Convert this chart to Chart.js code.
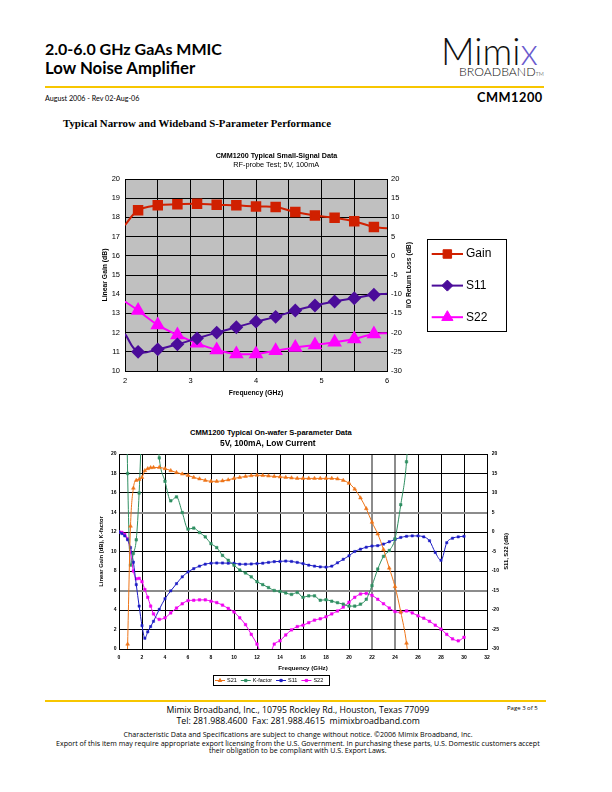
<!DOCTYPE html>
<html>
<head>
<meta charset="utf-8">
<title>CMM1200 S-Parameter Performance</title>
<script src="https://cdn.jsdelivr.net/npm/chart.js@4.4.0/dist/chart.umd.min.js"></script>
<style>
  body { margin: 0; background: #fff; }
  #page { position: relative; width: 612px; height: 792px; overflow: hidden; color: #000;
    font-family: "Liberation Sans", Arial, sans-serif; }
  .t { position: absolute; white-space: nowrap; line-height: 1; }
  .rule { position: absolute; height: 2px; background: #f7c600; }
  canvas { position: absolute; }
</style>
</head>
<body>
<div id="page">
  <canvas id="narrowChart" width="440" height="260" style="left:80px; top:145px;"></canvas>
  <canvas id="wideChart" width="450" height="250" style="left:80px; top:445px;"></canvas>

  <!-- header -->
  <div class="t" style="left:45px; font: bold 16px Lato;" data-w="177" data-cy="48.5">2.0-6.0 GHz GaAs MMIC</div>
  <div class="t" style="left:45px; font: bold 16px Lato;" data-w="150" data-cy="67">Low Noise Amplifier</div>
  <div class="t" style="font: 300 32px Lato; color:#111;" data-w="97" data-r="538" data-cy="50.5">Mimi<span style="color:#6a5acd;">x</span></div>
  <div class="t" style="font: 300 10px Lato; color:#111;" data-w="85" data-r="544" data-cy="71.5">BROADBAND<span style="font-size:45%;">TM</span></div>
  <div class="rule" style="left:45px; top:86px; width:499px;"></div>
  <div class="t" style="left:45px; font: 7px Lato;" data-w="95" data-cy="98">August 2006 - Rev 02-Aug-06</div>
  <div class="t" style="font: bold 12px Lato; letter-spacing:0.5px;" data-w="66" data-r="543" data-cy="96.5">CMM1200</div>
  <div class="t" style="left:63px; font: bold 10px 'Liberation Serif';" data-w="268" data-cy="122.5">Typical Narrow and Wideband S-Parameter Performance</div>

  <!-- chart titles -->
  <div class="t" style="font: bold 7px 'Liberation Sans';" data-w="122" data-cx="276.7" data-cy="155.7">CMM1200 Typical Small-Signal Data</div>
  <div class="t" style="font: 7px 'Liberation Sans';" data-w="86" data-cx="276.2" data-cy="164">RF-probe Test; 5V, 100mA</div>
  <div class="t" style="font: bold 7px 'Liberation Sans';" data-w="162" data-cx="271" data-cy="432.7">CMM1200 Typical On-wafer S-parameter Data</div>
  <div class="t" style="font: bold 7px 'Liberation Sans';" data-w="96" data-cx="268" data-cy="443.3">5V, 100mA, Low Current</div>

  <!-- footer -->
  <div class="rule" style="left:45px; top:700px; width:501px;"></div>
  <div class="t" style="font: 9px 'Open Sans';" data-w="263" data-cx="298" data-cy="710">Mimix Broadband, Inc., 10795 Rockley Rd., Houston, Texas 77099</div>
  <div class="t" style="font: 9px 'Open Sans';" data-w="244" data-cx="298" data-cy="720.5">Tel: 281.988.4600&nbsp; Fax: 281.988.4615&nbsp; mimixbroadband.com</div>
  <div class="t" style="left:507px; font: 6px 'Open Sans';" data-w="31" data-cy="708">Page 3 of 5</div>
  <div class="t" style="font: 7px 'Open Sans';" data-w="350" data-cx="298" data-cy="734">Characteristic Data and Specifications are subject to change without notice. ©2006 Mimix Broadband, Inc.</div>
  <div class="t" style="font: 7px 'Open Sans';" data-w="484" data-cx="298" data-cy="742.5">Export of this item may require appropriate export licensing from the U.S. Government. In purchasing these parts, U.S. Domestic customers accept</div>
  <div class="t" style="font: 7px 'Open Sans';" data-w="178" data-cx="298" data-cy="750">their obligation to be compliant with U.S. Export Laws.</div>
</div>

<script>
// narrow band, RF-probe test (GHz / dB)
const nbFreq = [2.0, 2.2, 2.5, 2.8, 3.1, 3.4, 3.7, 4.0, 4.3, 4.6, 4.9, 5.2, 5.5, 5.8, 6.0];
const nbGain = [17.6, 18.37, 18.63, 18.68, 18.71, 18.66, 18.63, 18.57, 18.54, 18.28, 18.1, 17.98, 17.8, 17.5, 17.44];
const nbS11 = [-20.35, -25.0, -24.35, -23.05, -21.5, -20.0, -18.6, -17.15, -15.9, -14.25, -12.95, -11.9, -11.05, -10.15, -9.85];
const nbS22 = [-11.9, -14.25, -18.0, -20.6, -22.8, -24.5, -25.55, -25.55, -24.7, -23.85, -23.2, -22.5, -21.65, -20.35, -20.15];

// wideband on-wafer data (GHz); S21 & K on left axis, S11 & S22 in dB on right axis
const wbFreq = [0, 0.25, 0.5, 0.75, 1, 1.25, 1.5, 1.75, 2, 2.25, 2.5, 2.75, 3,
  3.5, 4, 4.5, 5, 5.5, 6, 6.5, 7, 7.5, 8, 8.5, 9, 9.5, 10,
  10.5, 11, 11.5, 12, 12.5, 13, 13.5, 14, 14.5, 15, 15.5, 16,
  16.5, 17, 17.5, 18, 18.5, 19, 19.5, 20, 20.5, 21, 21.5, 22,
  22.5, 23, 23.5, 24, 24.5, 25, 25.5, 26, 26.5, 27, 27.5, 28,
  28.5, 29, 29.5, 30];
const wbS21 = [null, null, -12, 0.5, 12.6, 16.5, 17.3, 17.4, 17.6, 18.3, 18.5, 18.6, 18.62,
  18.62, 18.5, 18.3, 18.1, 17.95, 17.8, 17.6, 17.45, 17.3, 17.2, 17.2, 17.25, 17.35, 17.5,
  17.6, 17.7, 17.78, 17.82, 17.8, 17.75, 17.7, 17.65, 17.6, 17.55, 17.5, 17.5,
  17.5, 17.5, 17.5, 17.5, 17.5, 17.45, 17.3, 17.0, 16.4, 15.5, 14.4, 13.0,
  11.8, 10.2, 8.3, 6.4, 3.8, 0.6, -5, null, null, null, null, null,
  null, null, null, null];
const wbK = [null, null, 40, 18.0, 8.6, 9.8, 11.2, 16.0, 24, null, null, null, 28,
  19.6, 17.2, 15.2, 15.6, 14.0, 12.3, 12.4, 11.95, 11.5, 10.8, 10.4, 9.6, 9.1, 8.6,
  8.1, 7.8, 7.4, 6.9, 6.6, 6.3, 6.0, 5.9, 5.75, 5.6, 5.8, 5.3,
  5.45, 5.45, 5.0, 5.05, 4.9, 4.75, 4.6, 4.4, 4.4, 4.6, 5.1, 6.5,
  8.2, 9.5, 10.1, 11.3, 14.8, 19.2, 30, null, null, null, null, null,
  null, null, null, null];
const wbS11 = [0, -0.4, -1.0, -2.0, -4.0, -7.75, -13.5, -19.0, -24.0, -27.25, -25.6, -24.25, -22.9,
  -19.85, -17.1, -15.1, -13.25, -11.5, -10.25, -9.4, -8.75, -8.25, -8.0, -7.95, -7.95, -8.0, -8.0,
  -8.25, -8.25, -8.2, -8.1, -8.0, -7.8, -7.6, -7.55, -7.45, -7.55, -7.8, -8.1,
  -8.5, -8.75, -8.95, -9.0, -8.75, -7.9, -7.0, -6.1, -5.0, -4.4, -3.9, -3.6,
  -3.5, -3.1, -2.5, -1.9, -1.4, -1.1, -1.0, -1.0, -1.25, -2.25, -5.25, -7.25,
  -2.75, -1.6, -1.25, -1.1];
const wbS22 = [0, -0.1, -0.6, -1.75, -5.25, -10.0, -12.0, -11.9, -12.75, -14.75, -16.75, -19.0, -21.0,
  -22.4, -22.0, -20.75, -19.5, -18.4, -17.6, -17.5, -17.4, -17.4, -17.75, -18.1, -18.75, -19.6, -20.5,
  -22.0, -23.75, -26.25, -28.75, -32, -32, -28.75, -27.9, -26.4, -25.1, -24.25, -23.9,
  -23.25, -22.6, -22.25, -21.75, -21.0, -20.25, -19.25, -18.0, -16.75, -15.9, -15.75, -16.25,
  -17.25, -18.4, -19.5, -20.4, -20.6, -20.25, -20.75, -21.5, -22.1, -22.9, -23.9, -24.9,
  -26.25, -27.4, -27.9, -27.0];

const FONT = "'Liberation Sans', Arial, sans-serif";

function xy(freq, vals) {
  return freq.map((f, i) => ({ x: f, y: vals[i] }));
}

// size text boxes to the widths measured on the datasheet and place them
function placeText() {
  document.querySelectorAll(".t").forEach((el) => {
    const w = parseFloat(el.dataset.w);
    if (w) {
      const fs = parseFloat(getComputedStyle(el).fontSize);
      el.style.fontSize = (fs * w) / el.offsetWidth + "px";
    }
    el.style.top = parseFloat(el.dataset.cy) - el.offsetHeight / 2 + "px";
    if (el.dataset.cx) el.style.left = parseFloat(el.dataset.cx) - el.offsetWidth / 2 + "px";
    if (el.dataset.r) el.style.left = parseFloat(el.dataset.r) - el.offsetWidth + "px";
  });
}

const plotBackground = {
  id: "plotBackground",
  beforeDraw(chart, args, opts) {
    if (!opts.color) return;
    const { ctx, chartArea: a } = chart;
    ctx.save();
    ctx.fillStyle = opts.color;
    ctx.fillRect(a.left, a.top, a.width, a.height);
    ctx.restore();
  },
};

// right axis title reads bottom-to-top like the left one
const rightTitle = {
  id: "rightTitle",
  afterDraw(chart, args, opts) {
    const { ctx, chartArea: a } = chart;
    ctx.save();
    ctx.font = opts.font;
    ctx.fillStyle = "#000";
    ctx.textAlign = "center";
    ctx.textBaseline = "middle";
    ctx.translate(opts.x, (a.top + a.bottom) / 2);
    ctx.rotate(-Math.PI / 2);
    ctx.fillText(opts.text, 0, 0);
    ctx.restore();
  },
};

// boxed legend with line + marker samples
const boxLegend = {
  id: "boxLegend",
  afterDraw(chart, args, opts) {
    const ctx = chart.ctx;
    ctx.save();
    ctx.lineWidth = 1;
    ctx.strokeStyle = "#000";
    ctx.strokeRect(opts.left + 0.5, opts.top + 0.5, opts.width, opts.height);
    ctx.font = opts.font;
    ctx.textBaseline = "middle";
    ctx.textAlign = "left";
    let x = opts.startX;
    let y = opts.startY;
    chart.data.datasets.forEach((ds, i) => {
      ctx.strokeStyle = ds.borderColor;
      ctx.lineWidth = ds.borderWidth;
      ctx.beginPath();
      ctx.moveTo(x, y);
      ctx.lineTo(x + opts.lineLen, y);
      ctx.stroke();
      ctx.fillStyle = ds.borderColor;
      ctx.lineWidth = 1;
      Chart.helpers.drawPoint(ctx, { pointStyle: ds.pointStyle, radius: opts.radius[i], borderWidth: 1, rotation: 0 },
        x + opts.lineLen / 2, y);
      ctx.fillStyle = "#000";
      ctx.fillText(ds.label, x + opts.lineLen + opts.textGap, y);
      if (opts.vertical) {
        y += opts.rowStep;
      } else {
        x += opts.lineLen + opts.textGap + ctx.measureText(ds.label).width + opts.itemGap;
      }
    });
    ctx.restore();
  },
};

function endless(r) {
  // first and last points carry the line only
  return (c) => (c.dataIndex === 0 || c.dataIndex === nbFreq.length - 1 ? 0 : r);
}

function renderNarrowChart() {
  const ctx = document.getElementById("narrowChart").getContext("2d");
  const tickFont = { family: FONT, size: 7.5 };
  const titleFont = { family: FONT, size: 6.8, weight: "bold" };
  new Chart(ctx, {
    type: "line",
    data: {
      datasets: [
        {
          label: "Gain",
          data: xy(nbFreq, nbGain),
          yAxisID: "y",
          borderColor: "#d02000",
          backgroundColor: "#d02000",
          pointBackgroundColor: "#d02000",
          pointBorderColor: "#d02000",
          borderWidth: 2,
          pointStyle: "rect",
          pointRadius: endless(6),
          tension: 0.4,
        },
        {
          label: "S11",
          data: xy(nbFreq, nbS11),
          yAxisID: "y2",
          borderColor: "#4b0c9a",
          backgroundColor: "#4b0c9a",
          pointBackgroundColor: "#4b0c9a",
          pointBorderColor: "#4b0c9a",
          borderWidth: 2,
          pointStyle: "rectRot",
          pointRadius: endless(5.5),
          tension: 0.4,
        },
        {
          label: "S22",
          data: xy(nbFreq, nbS22),
          yAxisID: "y2",
          borderColor: "#ff00ff",
          backgroundColor: "#ff00ff",
          pointBackgroundColor: "#ff00ff",
          pointBorderColor: "#ff00ff",
          borderWidth: 2,
          pointStyle: "triangle",
          pointRadius: endless(6.5),
          tension: 0.4,
        },
      ],
    },
    options: {
      responsive: false,
      animation: false,
      devicePixelRatio: 1,
      layout: { padding: { top: 34, left: 0, right: 0, bottom: 0 } },
      scales: {
        x: {
          type: "linear",
          min: 2,
          max: 6,
          ticks: {
            stepSize: 0.5,
            autoSkip: false,
            maxRotation: 0,
            padding: 5,
            color: "#000",
            font: tickFont,
            callback: (v) => (Number.isInteger(v) ? v : ""),
          },
          grid: { color: "#000", lineWidth: 1, drawTicks: false },
          border: { color: "#000" },
          title: { display: true, text: "Frequency (GHz)", color: "#000", font: titleFont, padding: { top: 0, bottom: 8 } },
          afterFit: (s) => { s.height = 34; },
        },
        y: {
          position: "left",
          min: 10,
          max: 20,
          ticks: { stepSize: 1, autoSkip: false, padding: 5, color: "#000", font: tickFont },
          grid: { color: "#000", lineWidth: 1, drawTicks: false },
          border: { color: "#000" },
          title: { display: true, text: "Linear Gain (dB)", color: "#000", font: titleFont, padding: { top: 21, bottom: 0 } },
          afterFit: (s) => { s.width = 45; },
        },
        y2: {
          position: "right",
          min: -30,
          max: 20,
          ticks: { stepSize: 5, autoSkip: false, padding: 4, color: "#000", font: tickFont },
          grid: { drawOnChartArea: false, drawTicks: false },
          border: { color: "#000" },
          afterFit: (s) => { s.width = 133; },
        },
      },
      plugins: {
        legend: { display: false },
        title: { display: false },
        tooltip: { enabled: false },
        plotBackground: { color: "#c0c0c0" },
        rightTitle: { text: "I/O Return Loss (dB)", x: 329, font: "bold 6.8px " + FONT },
        boxLegend: {
          left: 347, top: 94, width: 79, height: 92,
          startX: 351.7, startY: 109, lineLen: 31.3, textGap: 3,
          vertical: true, rowStep: 31.6, radius: [6, 5.5, 6.5],
          font: "12px " + FONT,
        },
      },
    },
    plugins: [plotBackground, rightTitle, boxLegend],
  });
}

function renderWideChart() {
  const ctx = document.getElementById("wideChart").getContext("2d");
  const tickFont = { family: FONT, size: 5, weight: "bold" };
  const titleFont = { family: FONT, size: 6.2, weight: "bold" };
  const grayX = (c) => c.tick && (c.tick.value === 22 || c.tick.value === 24);
  const grayY = (c) => c.tick && (c.tick.value === 6 || c.tick.value === 14);
  const line = (label, vals, axis, color, style, r) => ({
    label,
    data: xy(wbFreq, vals),
    yAxisID: axis,
    borderColor: color,
    backgroundColor: color,
    pointBackgroundColor: color,
    pointBorderColor: color,
    borderWidth: 1,
    pointBorderWidth: 0.5,
    pointStyle: style,
    pointRadius: r,
    cubicInterpolationMode: "monotone",
  });
  new Chart(ctx, {
    type: "line",
    data: {
      datasets: [
        line("S21", wbS21, "y", "#ee7418", "triangle", 2.2),
        line("K-factor", wbK, "y", "#2f8f62", "rect", 1.8),
        line("S11", wbS11, "y2", "#1c1cc4", "rect", 1.6),
        line("S22", wbS22, "y2", "#f000f0", "rect", 1.8),
      ],
    },
    options: {
      responsive: false,
      animation: false,
      devicePixelRatio: 1,
      layout: { padding: { top: 9, left: 0, right: 0, bottom: 0 } },
      scales: {
        x: {
          type: "linear",
          min: 0,
          max: 32,
          ticks: { stepSize: 2, autoSkip: false, maxRotation: 0, padding: 6, color: "#000", font: tickFont },
          grid: {
            color: (c) => (grayX(c) ? "#8c8c8c" : "#000"),
            lineWidth: (c) => (grayX(c) ? 2 : 1),
            drawTicks: false,
          },
          border: { color: "#000" },
          title: { display: true, text: "Frequency (GHz)", color: "#000", font: titleFont, padding: { top: 0, bottom: 22.9 } },
          afterFit: (s) => { s.height = 46; },
        },
        y: {
          position: "left",
          min: 0,
          max: 20,
          ticks: { stepSize: 2, autoSkip: false, padding: 2.5, color: "#000", font: tickFont },
          grid: {
            color: (c) => (grayY(c) ? "#8c8c8c" : "#000"),
            lineWidth: (c) => (grayY(c) ? 2 : 1),
            drawTicks: false,
          },
          border: { color: "#000" },
          title: { display: true, text: "Linear Gain (dB), K-factor", color: "#000", font: { family: FONT, size: 5.8, weight: "bold" }, padding: { top: 18.2, bottom: 0 } },
          afterFit: (s) => { s.width = 39; },
        },
        y2: {
          position: "right",
          min: -30,
          max: 20,
          ticks: { stepSize: 5, autoSkip: false, padding: 4.7, color: "#000", font: tickFont },
          grid: { drawOnChartArea: false, drawTicks: false },
          border: { color: "#000" },
          afterFit: (s) => { s.width = 43; },
        },
      },
      plugins: {
        legend: { display: false },
        title: { display: false },
        tooltip: { enabled: false },
        rightTitle: { text: "S11, S22 (dB)", x: 426, font: "bold 5.8px " + FONT },
        boxLegend: {
          left: 133, top: 230, width: 116, height: 10,
          startX: 135, startY: 235.5, lineLen: 10, textGap: 2,
          vertical: false, itemGap: 4, radius: [2, 1.6, 1.6, 1.6],
          font: "5.5px " + FONT,
        },
      },
    },
    plugins: [rightTitle, boxLegend],
  });
}

window.addEventListener("DOMContentLoaded", () => {
  placeText();
  renderNarrowChart();
  renderWideChart();
});
</script>
</body>
</html>
